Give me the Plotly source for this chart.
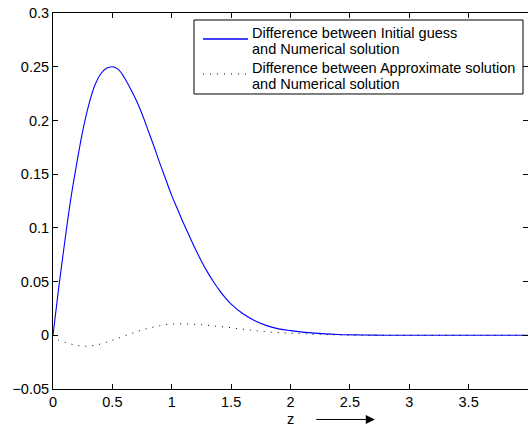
import plotly.graph_objects as go

# Blue: difference between initial guess and numerical solution
z_init = [0, 0.05, 0.1, 0.15, 0.2, 0.25, 0.3, 0.35, 0.4, 0.45, 0.5, 0.55, 0.6, 0.65, 0.7,
          0.75, 0.8, 0.85, 0.9, 0.95, 1.0, 1.05, 1.1, 1.15, 1.2, 1.25, 1.3, 1.35, 1.4,
          1.45, 1.5, 1.6, 1.7, 1.8, 1.9, 2.0, 2.2, 2.4, 2.6, 2.8, 3.0, 3.5, 4.0]
d_init = [0, 0.046, 0.088, 0.127, 0.160, 0.190, 0.214, 0.232, 0.243, 0.2485, 0.250, 0.2475,
          0.240, 0.230, 0.219, 0.206, 0.191, 0.176, 0.160, 0.145, 0.130, 0.117, 0.104,
          0.092, 0.080, 0.069, 0.059, 0.050, 0.042, 0.035, 0.029, 0.020, 0.0135, 0.009,
          0.006, 0.0043, 0.002, 0.0008, 0.0003, 0.0001, 0.0, 0.0, 0.0]

# Dotted: difference between approximate solution and numerical solution
z_appr = [0, 0.047, 0.097, 0.15, 0.2, 0.256, 0.31, 0.368, 0.418, 0.471, 0.527, 0.577, 0.632,
          0.688, 0.736, 0.79, 0.847, 0.897, 0.953, 1.008, 1.064, 1.12, 1.175, 1.23, 1.287,
          1.338, 1.39, 1.446, 1.50, 1.558, 1.614, 1.67, 1.725, 1.78, 1.83, 1.89, 1.95, 2.0,
          2.06, 2.12, 2.2, 2.3, 2.5, 3.0, 3.5, 4.0]
d_appr = [0, -0.0047, -0.0064, -0.0081, -0.0094, -0.0102, -0.0100, -0.0089, -0.0076, -0.0057,
          -0.0037, -0.0016, 0.0006, 0.0026, 0.0045, 0.0062, 0.0077, 0.0089, 0.0099, 0.0105,
          0.0107, 0.0106, 0.0103, 0.0099, 0.0094, 0.0089, 0.0083, 0.0077, 0.0070, 0.0062,
          0.0055, 0.0048, 0.0041, 0.0035, 0.0030, 0.0025, 0.0022, 0.0019, 0.0016, 0.0013,
          0.0009, 0.0006, 0.0002, 0.0, 0.0, 0.0]

series_names = ["Difference between Initial guess", "and Numerical solution",
                "Difference between Approximate solution", "and Numerical solution"]

x_ticks = [0, 0.5, 1, 1.5, 2, 2.5, 3, 3.5, 4]
x_ticklabels = ["0", "0.5", "1", "1.5", "2", "2.5", "3", "3.5", "4"]
y_ticks = [-0.05, 0, 0.05, 0.1, 0.15, 0.2, 0.25, 0.3]
y_ticklabels = ["\u22120.05", "0", "0.05", "0.1", "0.15", "0.2", "0.25", "0.3"]

FONT = "Liberation Sans, Arial, Helvetica, sans-serif"
FS = 14.5
BLUE = "rgb(0,0,255)"
DOT = "1px,6px"

fig = go.Figure()
fig.add_trace(go.Scatter(
    x=z_init, y=d_init, mode="lines", line_shape="spline",
    line=dict(color=BLUE, width=1.1), showlegend=False,
    name=series_names[0] + " " + series_names[1]))
fig.add_trace(go.Scatter(
    x=z_appr, y=d_appr, mode="lines", line_shape="spline",
    line=dict(color="#000000", width=1, dash=DOT), showlegend=False,
    name=series_names[2] + " " + series_names[3]))
# invisible trace to activate the right y axis ticks
fig.add_trace(go.Scatter(x=[0], y=[0], yaxis="y2", mode="markers",
                         marker=dict(opacity=0), showlegend=False, hoverinfo="skip"))

# legend box (drawn as in the original figure)
L_X0, L_X1, L_Y0, L_Y1 = 0.2968, 0.9895, 0.7846, 0.9814
shapes = [
    dict(type="rect", xref="paper", yref="paper", x0=L_X0, x1=L_X1, y0=L_Y0, y1=L_Y1,
         line=dict(color="black", width=1), fillcolor="white", layer="above"),
    dict(type="line", xref="paper", yref="paper", x0=0.3158, x1=0.4105, y0=0.9309, y1=0.9309,
         line=dict(color=BLUE, width=1.4), layer="above"),
    dict(type="line", xref="paper", yref="paper", x0=0.3158, x1=0.4105, y0=0.8378, y1=0.8378,
         line=dict(color="black", width=1, dash=DOT), layer="above"),
]
row_y = [0.9481, 0.9035, 0.8537, 0.8117]
annotations = [
    dict(text=t, xref="paper", yref="paper", x=0.414, y=yy, xanchor="left", yanchor="middle",
         showarrow=False, align="left", font=dict(family=FONT, size=FS, color="black"))
    for t, yy in zip(series_names, row_y)
]
annotations += [
    dict(text="z", xref="x", yref="paper", x=2, y=-0.08, yanchor="middle",
         showarrow=False, font=dict(family=FONT, size=FS, color="black")),
    dict(text="", xref="x", yref="paper", x=2.71, y=-0.081,
         ax=-60, ay=0, showarrow=True, arrowhead=2, arrowsize=1.8,
         arrowwidth=1, arrowcolor="black"),
]

fig.update_layout(
    width=528, height=435,
    margin=dict(l=53, r=0, t=13, b=46),
    paper_bgcolor="white", plot_bgcolor="white",
    font=dict(family=FONT, size=FS, color="black"),
    showlegend=False,
    xaxis=dict(range=[0, 4], tickvals=x_ticks, ticktext=x_ticklabels,
               ticks="inside", ticklen=5, tickcolor="black",
               showline=True, linecolor="black", linewidth=1, mirror="ticks",
               showgrid=False, zeroline=False),
    yaxis=dict(range=[-0.05, 0.3], tickvals=y_ticks, ticktext=y_ticklabels,
               ticks="inside", ticklen=5, tickcolor="black",
               showline=True, linecolor="black", linewidth=1, mirror=False,
               showgrid=False, zeroline=False),
    yaxis2=dict(range=[-0.05, 0.3], tickvals=y_ticks, overlaying="y", side="right",
                ticks="inside", ticklen=5, tickcolor="black",
                showticklabels=False, showline=False, showgrid=False, zeroline=False),
    shapes=shapes,
    annotations=annotations,
)

fig.write_html("out.html")
